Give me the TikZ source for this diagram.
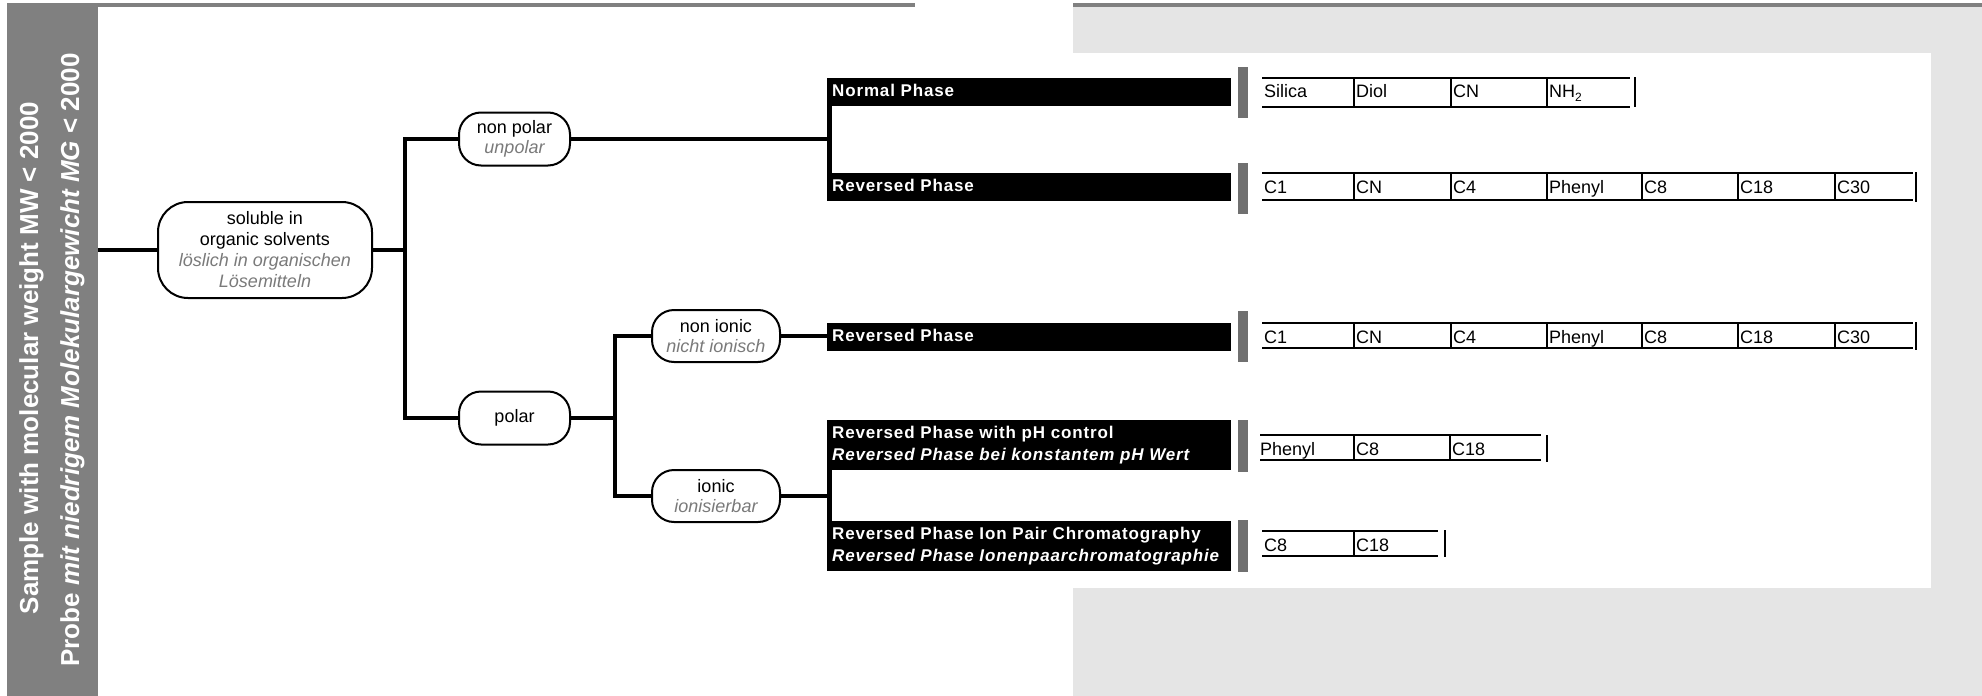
\documentclass[tikz,border=0pt]{standalone}
\usepackage{fontspec}
\setmainfont{Liberation Sans}
\newfontfamily\phasefont[LetterSpace=5]{Liberation Sans}
\definecolor{barg}{HTML}{808080}
\definecolor{lightg}{HTML}{E5E5E5}
\definecolor{tickg}{HTML}{707070}
\definecolor{deg}{HTML}{7A7A7A}
\newcommand{\chemsub}[1]{\raisebox{-4pt}{\fontsize{12}{12}\selectfont #1}}
\pgfdeclarelayer{back}
\pgfdeclarelayer{mid}
\pgfsetlayers{back,mid,main}
\begin{document}
\begin{tikzpicture}[x=1pt,y=-1pt,
  conn/.style={line width=4.3pt},
  pnode/.style={draw, line width=2pt, fill=white, rounded corners=22pt, minimum width=111pt, minimum height=53pt, inner sep=0pt, align=center, font=\fontsize{18}{20}\selectfont},
  phase/.style={fill=black, text=white, anchor=north west, minimum width=404pt, text width=394pt, inner xsep=5pt, inner ysep=0pt, align=left, font=\phasefont\bfseries\fontsize{17}{22}\selectfont},
  oneline/.style={minimum height=28pt, text depth=4pt},
  twoline/.style={minimum height=50pt},
  cell/.style={anchor=base west, inner sep=0pt, font=\fontsize{18}{18}\selectfont},
  tline/.style={line width=2pt},
  tdiv/.style={line width=1.5pt},
  gbar/.style={fill=tickg, draw=none, minimum width=10pt, inner sep=0pt, anchor=north west},
  sidetext/.style={rotate=90, anchor=base, text=white, inner sep=0pt, font=\bfseries\fontsize{26}{26}\selectfont}
]
\useasboundingbox (0,0) rectangle (1982,696);

% background areas
\begin{pgfonlayer}{back}
\fill[lightg] (1073,7) rectangle (1982,696);
\fill[white] (1073,53) rectangle (1931,588);
\fill[barg] (7,3) rectangle (915,7);
\fill[barg] (1073,3) rectangle (1982,7);
\fill[barg] (7,3) rectangle (98,696);
\end{pgfonlayer}

% side texts
\node[sidetext] (side1) at (38,358) {Sample with molecular weight MW < 2000};
\node[sidetext] (side2) at (79,360) {Probe \textit{mit niedrigem Molekulargewicht MG} < 2000};

% decision nodes
\node[pnode, minimum width=214pt, minimum height=96pt, rounded corners=30pt, font=\fontsize{18}{21}\selectfont] (sol) at (265,250)
  {soluble in\\organic solvents\\\textcolor{deg}{\itshape löslich in organischen}\\\textcolor{deg}{\itshape Lösemitteln}};
\node[pnode] (np) at (514.5,139) {non polar\\\textcolor{deg}{\itshape unpolar}};
\node[pnode] (po) at (514.5,418) {polar};
\node[pnode, minimum width=128pt, minimum height=52pt] (ni) at (716,336) {non ionic\\\textcolor{deg}{\itshape nicht ionisch}};
\node[pnode, minimum width=128pt, minimum height=52pt] (io) at (716,496) {ionic\\\textcolor{deg}{\itshape ionisierbar}};

% phase boxes
\node[phase, oneline] (nph) at (827,78) {Normal Phase};
\node[phase, oneline] (rp1) at (827,173) {Reversed Phase};
\node[phase, oneline] (rp2) at (827,323) {Reversed Phase};
\node[phase, twoline] (rph) at (827,420) {Reversed Phase with pH control\\\itshape Reversed Phase bei konstantem pH Wert};
\node[phase, twoline] (rip) at (827,521) {Reversed Phase Ion Pair Chromatography\\\itshape Reversed Phase Ionenpaarchromatographie};

% connectors
\coordinate (bar) at (98,250);
\coordinate (j1) at (405,0);
\coordinate (j2) at (615,0);
\coordinate (j3) at (829,0);
\begin{pgfonlayer}{mid}
\draw[conn] (bar) -- (sol.west);
\draw[conn] (sol.east) -- (sol.east -| j1);
\draw[conn] (np.west) -| (po.west -| j1) -- (po.west);
\draw[conn] (po.east) -- (po.east -| j2);
\draw[conn] (ni.west) -| (io.west -| j2) -- (io.west);
\draw[conn] (np.east) -- (np.east -| j3);
\draw[conn, line width=5pt] (nph.west -| j3) -- (rp1.west -| j3);
\draw[conn] (ni.east) -- (ni.east -| rp2.west);
\draw[conn] (io.east) -- (io.east -| j3);
\draw[conn, line width=5pt] (rph.west -| j3) -- (rip.west -| j3);
\end{pgfonlayer}

% grey markers
\node[gbar, minimum height=51pt] (g1) at (1238,67) {};
\node[gbar, minimum height=51pt] (g2) at (1238,163) {};
\node[gbar, minimum height=51pt] (g3) at (1238,311) {};
\node[gbar, minimum height=52pt] (g4) at (1238,420) {};
\node[gbar, minimum height=52pt] (g5) at (1238,520) {};

% row 1
\draw[tline] (1262,78) -- (1630,78) (1262,107) -- (1630,107);
\foreach \x in {1354,1451,1547} \draw[tdiv] (\x,78) -- (\x,107);
\draw[tdiv] (1635,77) -- (1635,107);
\foreach \x/\t [count=\i] in {1262/Silica,1354/Diol,1451/CN,1547/{NH\chemsub{2}}}
  \node[cell] (a\i) at (\x+2,97) {\t};

% row 2
\draw[tline] (1262,173) -- (1913,173) (1262,200) -- (1913,200);
\foreach \x in {1354,1451,1547,1642,1738,1835} \draw[tdiv] (\x,173) -- (\x,200);
\draw[tdiv] (1916,172) -- (1916,202);
\foreach \x/\t [count=\i] in {1262/C1,1354/CN,1451/C4,1547/Phenyl,1642/C8,1738/C18,1835/C30}
  \node[cell] (b\i) at (\x+2,193) {\t};

% row 3
\draw[tline] (1262,323) -- (1913,323) (1262,348) -- (1913,348);
\foreach \x in {1354,1451,1547,1642,1738,1835} \draw[tdiv] (\x,323) -- (\x,348);
\draw[tdiv] (1916,322) -- (1916,350);
\foreach \x/\t [count=\i] in {1262/C1,1354/CN,1451/C4,1547/Phenyl,1642/C8,1738/C18,1835/C30}
  \node[cell] (c\i) at (\x+2,343) {\t};

% row 4
\draw[tline] (1260,435) -- (1541,435) (1260,460) -- (1541,460);
\foreach \x in {1354,1450} \draw[tdiv] (\x,435) -- (\x,460);
\draw[tdiv] (1547,435) -- (1547,462);
\foreach \x/\t [count=\i] in {1258/Phenyl,1354/C8,1450/C18}
  \node[cell] (d\i) at (\x+2,455) {\t};

% row 5
\draw[tline] (1262,531) -- (1438,531) (1262,556) -- (1438,556);
\draw[tdiv] (1354,531) -- (1354,556);
\draw[tdiv] (1445,530) -- (1445,557);
\foreach \x/\t [count=\i] in {1262/C8,1354/C18}
  \node[cell] (e\i) at (\x+2,551) {\t};
\end{tikzpicture}
\end{document}
